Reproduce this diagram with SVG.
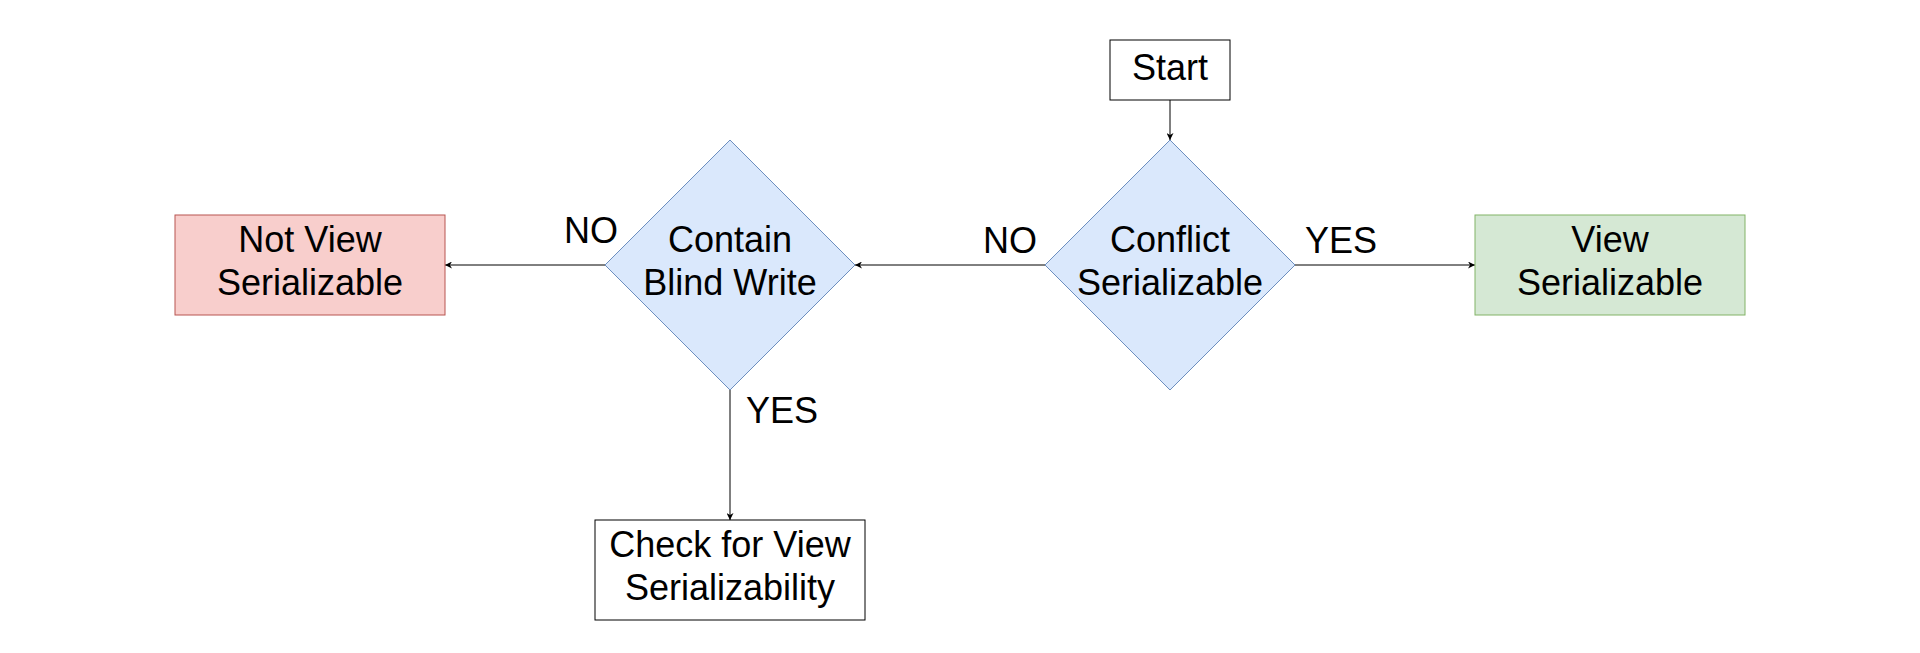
<svg xmlns="http://www.w3.org/2000/svg" width="1920" height="653" viewBox="0 0 1920 653">
<style>
text{font-family:"Liberation Sans",Arial,sans-serif;font-size:36px;fill:#000;text-anchor:middle}
.plain{fill:#fff;stroke:#000;stroke-width:1}
.dec{fill:#dae8fc;stroke:#6c8ebf;stroke-width:1}
.red{fill:#f8cecc;stroke:#b85450;stroke-width:1}
.green{fill:#d5e8d4;stroke:#82b366;stroke-width:1}
.edge{fill:none;stroke:#000;stroke-width:1;marker-end:url(#arr)}
.lbl{text-anchor:start}
</style>
<defs>
<marker id="arr" viewBox="0 0 10 10" refX="10" refY="5" markerWidth="7" markerHeight="7" markerUnits="userSpaceOnUse" orient="auto">
<path d="M0,0 L10,5 L0,10 L3,5 Z" fill="#000"/>
</marker>
</defs>
<rect width="1920" height="653" fill="#fff"/>
<g id="connectors">
<path class="edge" d="M1170,100 L1170,140"/>
<path class="edge" d="M1045,265 L855,265"/>
<path class="edge" d="M1295,265 L1475,265"/>
<path class="edge" d="M605,265 L445,265"/>
<path class="edge" d="M730,390 L730,520"/>
<text class="lbl" x="1305" y="253">YES</text>
<text class="lbl" x="983" y="253">NO</text>
<text class="lbl" x="564" y="243">NO</text>
<text class="lbl" x="746" y="423">YES</text>
</g>
<g id="start">
<rect class="plain" x="1110" y="40" width="120" height="60"/>
<text x="1170" y="80">Start</text>
</g>
<g id="conflict">
<path class="dec" d="M1170,140 L1295,265 L1170,390 L1045,265 Z"/>
<text x="1170" y="252">Conflict</text>
<text x="1170" y="295">Serializable</text>
</g>
<g id="view">
<rect class="green" x="1475" y="215" width="270" height="100"/>
<text x="1610" y="252">View</text>
<text x="1610" y="295">Serializable</text>
</g>
<g id="blind">
<path class="dec" d="M730,140 L855,265 L730,390 L605,265 Z"/>
<text x="730" y="252">Contain</text>
<text x="730" y="295">Blind Write</text>
</g>
<g id="notview">
<rect class="red" x="175" y="215" width="270" height="100"/>
<text x="310" y="252">Not View</text>
<text x="310" y="295">Serializable</text>
</g>
<g id="check">
<rect class="plain" x="595" y="520" width="270" height="100"/>
<text x="730" y="557">Check for View</text>
<text x="730" y="600">Serializability</text>
</g>
</svg>
